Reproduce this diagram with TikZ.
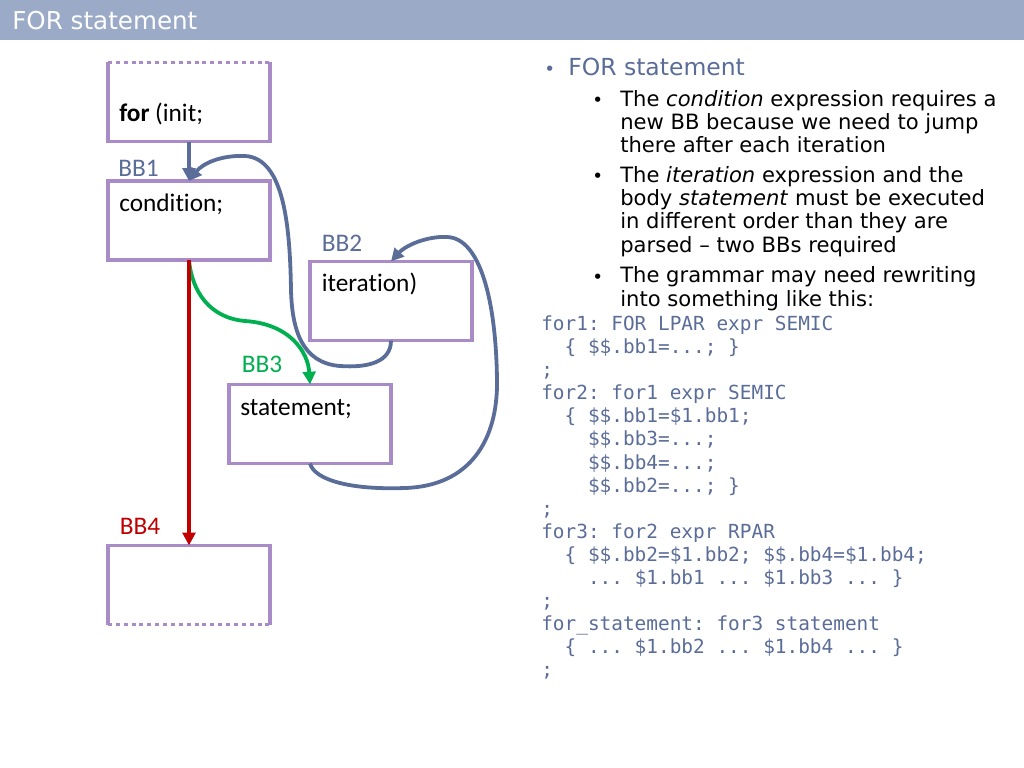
\documentclass[tikz,border=0pt]{standalone}
\usepackage{fontspec}
\setmainfont{DejaVu Sans}
\setmonofont{DejaVu Sans Mono}
\newfontfamily\calibrifont[Ligatures=NoCommon]{Carlito}
\usetikzlibrary{arrows.meta}

\definecolor{titlebar}{RGB}{155,170,199}
\definecolor{bbpurple}{RGB}{169,139,199}
\definecolor{slate}{RGB}{90,108,152}
\definecolor{bbgreen}{RGB}{0,176,80}
\definecolor{bbred}{RGB}{192,0,0}

\begin{document}
\begin{tikzpicture}[
    x=0.025cm, y=-0.025cm,
    bb/.style={rectangle, minimum width=4.05cm, minimum height=1.98cm, inner sep=0pt, outer sep=0pt},
    bbframe/.style={draw=bbpurple, line width=2.4pt},
    bbopen/.style={draw=bbpurple, line width=2.4pt, dash pattern=on 2.8pt off 2.8pt},
    boxtext/.style={anchor=base west, inner sep=0pt, font=\calibrifont\fontsize{18}{20}\selectfont},
    bblabel/.style={boxtext, text=slate},
    flow/.style={line width=2.7pt, -{Triangle[length=9pt,width=9pt]}},
    itemtext/.style={anchor=base west, inner sep=0pt, align=left, font=\fontsize{15}{16.5}\selectfont},
    dot/.style={anchor=base west, inner sep=0pt, font=\fontsize{13}{14}\selectfont},
    code/.style={anchor=base west, inner sep=0pt, align=left, text=slate, font=\ttfamily\fontsize{13.8}{16.4}\selectfont}
]
    \useasboundingbox (0,0) rectangle (1024,768);
    \fill[titlebar] (0,0) rectangle (1024,40);
    \node[anchor=base west, inner sep=0pt, text=white, font=\fontsize{17.5}{20}\selectfont] (title) at (12,29.5) {FOR statement};

    \node[bb] (init) at (189,102) {};
    \draw[bbframe] (init.north west) -- (init.south west) -- (init.south east) -- (init.north east);
    \draw[bbopen] (init.north west) -- (init.north east);
    \node[bb, bbframe] (bb1) at (189,220.5) {};
    \node[bb, bbframe] (bb2) at (391,301) {};
    \node[bb, bbframe] (bb3) at (310,424) {};
    \node[bb] (bb4) at (189,585) {};
    \draw[bbframe] (bb4.south west) -- (bb4.north west) -- (bb4.north east) -- (bb4.south east);
    \draw[bbopen] (bb4.south west) -- (bb4.south east);

    \node[boxtext] (inittext) at (119,121.5) {\textbf{for} (init;};
    \node[boxtext] (condtext) at (119,211) {condition;};
    \node[boxtext] (itertext) at (321.5,291.5) {iteration)};
    \node[boxtext] (stmttext) at (240,415) {statement;};

    \node[bblabel] (bb1label) at (118,176.5) {BB1};
    \node[bblabel] (bb2label) at (321.5,251.5) {BB2};
    \node[bblabel, text=bbgreen] (bb3label) at (241.5,372.5) {BB3};
    \node[bblabel, text=bbred] (bb4label) at (119.5,534) {BB4};

    \draw[flow, draw=slate] (init.south) -- (bb1.north);
    \draw[flow, draw=slate] (bb2.south) .. controls (391,362) and (368,368) .. (340,366)
        .. controls (302,363) and (292,330) .. (291,290)
        .. controls (290,230) and (285,158) .. (245,156)
        .. controls (222,155) and (203,163) .. (bb1.north);
    \draw[flow, draw=slate] (bb3.south) .. controls (315,480) and (350,490) .. (405,488)
        .. controls (470,486) and (498,440) .. (497,380)
        .. controls (496,300) and (480,238) .. (447,237)
        .. controls (426,236) and (405,246) .. (bb2.north);
    \draw[flow, draw=bbgreen] (bb1.south) .. controls (192,292) and (210,318) .. (245,321)
        .. controls (290,324) and (308,352) .. (bb3.north);
    \draw[flow, draw=bbred] (bb1.south) -- (bb4.north);

    \node[dot, text=slate] (headdot) at (544,76) {•};
    \node[itemtext, text=slate, font=\fontsize{16.7}{18}\selectfont] (head) at (568,76) {FOR statement};
    \node[dot] (dot1) at (592,106.5) {•};
    \node[itemtext] (item1) at (620,152.5) {The \emph{condition} expression requires a\\new BB because we need to jump\\there after each iteration};
    \node[dot] (dot2) at (592,183) {•};
    \node[itemtext] (item2) at (620,252) {The \emph{iteration} expression and the\\body \emph{statement} must be executed\\in different order than they are\\parsed – two BBs required};
    \node[dot] (dot3) at (592,283) {•};
    \node[itemtext] (item3) at (620,306) {The grammar may need rewriting\\into something like this:};

    \node[code] (grammar) at (541,676.6) {for1: FOR LPAR expr SEMIC\\~~\{ \$\$.bb1=...; \}\\;\\for2: for1 expr SEMIC\\~~\{ \$\$.bb1=\$1.bb1;\\~~~~\$\$.bb3=...;\\~~~~\$\$.bb4=...;\\~~~~\$\$.bb2=...; \}\\;\\for3: for2 expr RPAR\\~~\{ \$\$.bb2=\$1.bb2; \$\$.bb4=\$1.bb4;\\~~~~... \$1.bb1 ... \$1.bb3 ... \}\\;\\for\_statement: for3 statement\\~~\{ ... \$1.bb2 ... \$1.bb4 ... \}\\;};
\end{tikzpicture}
\end{document}
